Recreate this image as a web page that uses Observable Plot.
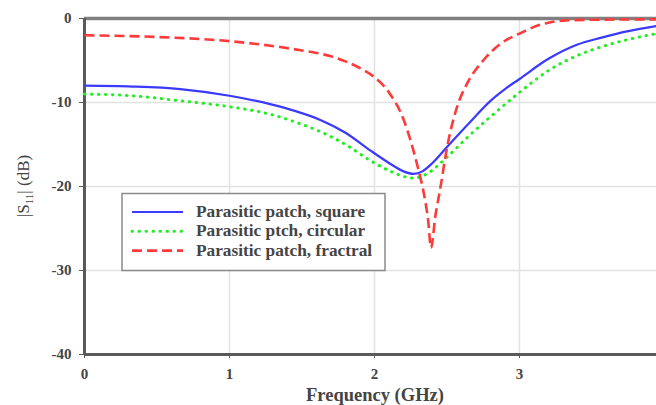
<!DOCTYPE html>
<html>
<head>
<meta charset="utf-8">
<script src="https://cdn.jsdelivr.net/npm/d3@7"></script>
<script src="https://cdn.jsdelivr.net/npm/@observablehq/plot@0.6"></script>
<style>
  html, body { margin: 0; padding: 0; background: #fff; }
</style>
</head>
<body>
<div id="chart"></div>
<script>
// ---- Data ----
const freqSquare = [0, 0.33, 0.66, 1.0, 1.28, 1.45, 1.63, 1.8, 1.97, 2.1, 2.2, 2.27, 2.33, 2.4, 2.5, 2.65, 2.8, 2.9, 3.0, 3.2, 3.4, 3.56, 3.75, 3.945];
const s11Square  = [-8.0, -8.1, -8.4, -9.2, -10.2, -11.0, -12.1, -13.6, -15.7, -17.2, -18.2, -18.5, -18.2, -17.2, -15.3, -12.5, -9.8, -8.4, -7.2, -4.8, -3.1, -2.3, -1.5, -0.9];

const freqCircular = [0, 0.33, 0.66, 1.0, 1.28, 1.45, 1.63, 1.8, 1.97, 2.1, 2.2, 2.27, 2.35, 2.5, 2.65, 2.8, 3.0, 3.2, 3.4, 3.56, 3.75, 3.945];
const s11Circular  = [-9.0, -9.2, -9.8, -10.5, -11.4, -12.3, -13.5, -15.0, -16.9, -18.1, -18.8, -19.0, -18.6, -16.5, -14.0, -11.7, -8.8, -6.2, -4.4, -3.4, -2.5, -1.8];

const freqFractal = [0, 0.5, 1.0, 1.35, 1.5, 1.6, 1.7, 1.8, 1.9, 2.0, 2.1, 2.2, 2.25, 2.3, 2.34, 2.37, 2.39, 2.42, 2.455, 2.5, 2.57, 2.64, 2.75, 2.87, 3.0, 3.1, 3.2, 3.3, 3.5, 3.945];
const s11Fractal  = [-2.0, -2.2, -2.7, -3.4, -3.8, -4.1, -4.5, -5.1, -5.9, -7.0, -8.8, -12.0, -14.6, -17.8, -20.8, -24.0, -27.3, -23.5, -20.1, -15.4, -10.5, -7.7, -5.0, -3.0, -1.8, -1.0, -0.5, -0.25, -0.15, -0.1];

const seriesNames = ["Parasitic patch, square", "Parasitic ptch, circular", "Parasitic patch, fractral"];
const xTicks = [0, 1, 2, 3];
const yTicks = [0, -10, -20, -30, -40];
const xLabel = "Frequency (GHz)";

// ---- Styles ----
const styles = [
  {stroke: "#3a3aff", strokeWidth: 2.2, strokeDasharray: null, strokeLinecap: "butt"},
  {stroke: "#22ee22", strokeWidth: 3, strokeDasharray: "0.5 6.5", strokeLinecap: "round"},
  {stroke: "#ff3a3a", strokeWidth: 2.6, strokeDasharray: "10 5", strokeLinecap: "butt"}
];

const toRows = (fs, vs) => fs.map((f, i) => ({f, v: vs[i]}));
const dataSets = [
  toRows(freqSquare, s11Square),
  toRows(freqCircular, s11Circular),
  toRows(freqFractal, s11Fractal)
];

const font = "'Liberation Serif', 'Times New Roman', serif";
const frameColor = "#5a5a5a";

const chart = Plot.plot({
  width: 656,
  height: 405,
  marginLeft: 84,
  marginRight: 0,
  marginTop: 18,
  marginBottom: 51,
  style: {fontFamily: font, fontSize: "15px", background: "#fff", color: "#444"},
  x: {domain: [0, 3.945]},
  y: {domain: [-40, 0]},
  marks: [
    Plot.gridX(xTicks.slice(1), {stroke: "#e2e2e2", strokeOpacity: 1, strokeWidth: 1.5}),
    Plot.gridY(yTicks.slice(1, -1), {stroke: "#e2e2e2", strokeOpacity: 1, strokeWidth: 1.5}),
    Plot.axisX(xTicks, {tickSize: 4, tickPadding: 10, stroke: frameColor, fill: "#444", fontWeight: "bold", label: null, tickFormat: d => String(d)}),
    Plot.axisY(yTicks, {tickSize: 5, tickPadding: 8, stroke: frameColor, fill: "#444", fontWeight: "bold", label: null, tickFormat: d => String(d)}),
    Plot.ruleY([0], {stroke: "#808080", strokeWidth: 3.5}),
    Plot.ruleX([0], {stroke: frameColor, strokeWidth: 3}),
    Plot.ruleY([-40], {stroke: frameColor, strokeWidth: 3}),
    ...dataSets.map((d, i) => Plot.line(d, {x: "f", y: "v", curve: "monotone-x", ...styles[i]}))
  ]
});

document.getElementById("chart").appendChild(chart);

// ---- Axis titles and legend ----
const svg = d3.select(chart);
const ys = chart.scale("y");
const yTop = ys.range[1], yBot = ys.range[0];

svg.append("text")
  .attr("x", 375)
  .attr("y", 401)
  .attr("text-anchor", "middle")
  .attr("font-family", font)
  .attr("font-size", 18.5)
  .attr("font-weight", "bold")
  .attr("fill", "#444")
  .text(xLabel);

const yl = svg.append("text")
  .attr("transform", `translate(29,${(yTop + yBot) / 2}) rotate(-90)`)
  .attr("text-anchor", "middle")
  .attr("font-family", font)
  .attr("font-size", 17)
  .attr("fill", "#444");
yl.append("tspan").text("|S");
yl.append("tspan").attr("font-size", 11).attr("dy", 4).text("11");
yl.append("tspan").attr("dy", -4).text("| (dB)");

// legend
const lg = svg.append("g");
lg.append("rect")
  .attr("x", 122).attr("y", 193.5).attr("width", 263).attr("height", 77)
  .attr("fill", "#fff").attr("stroke", "#8a8a8a").attr("stroke-width", 1.5);
seriesNames.forEach((name, i) => {
  const yy = 212 + i * 19.3;
  const s = styles[i];
  lg.append("line")
    .attr("x1", 132).attr("x2", 183).attr("y1", yy).attr("y2", yy)
    .attr("stroke", s.stroke).attr("stroke-width", s.strokeWidth)
    .attr("stroke-dasharray", s.strokeDasharray)
    .attr("stroke-linecap", s.strokeLinecap);
  lg.append("text")
    .attr("x", 196).attr("y", yy + 5)
    .attr("text-anchor", "start")
    .attr("font-family", font).attr("font-size", 17.3).attr("font-weight", "bold")
    .attr("fill", "#444")
    .text(name);
});
</script>
</body>
</html>
